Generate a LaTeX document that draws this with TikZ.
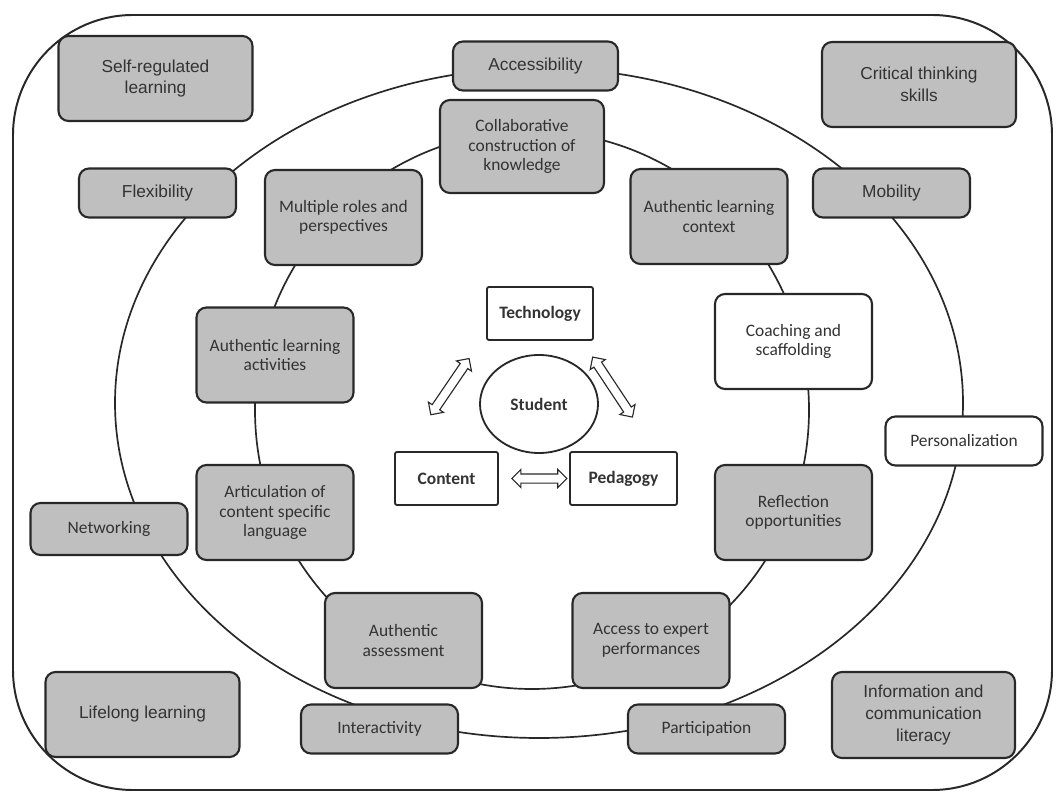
\documentclass[tikz,border=0pt]{standalone}
\usepackage{fontspec}
\setmainfont{Carlito}
\newfontfamily\arialfont{Liberation Sans}
\usetikzlibrary{shapes.geometric,shapes.arrows}
\newlength\px
\setlength\px{0.025cm}
\definecolor{boxgray}{RGB}{191,191,191}
\definecolor{inkgray}{RGB}{40,40,40}
\tikzset{
  gbox/.style={draw=inkgray, fill=boxgray, line width=1.5pt, rounded corners=10\px,
    align=center, inner sep=0pt, text=black!80, font=\fontsize{12.4}{14}\selectfont},
  wbox/.style={gbox, fill=white},
  abox/.style={gbox, font=\arialfont\fontsize{12.3}{15.4}\selectfont},
  ringbox/.style={minimum width=157\px, minimum height=95\px},
  tagbox/.style={minimum width=157\px, minimum height=49\px},
  cornerbox/.style={minimum width=194\px, minimum height=85\px},
  corebox/.style={draw=inkgray, fill=white, line width=1.3pt, rounded corners=2\px,
    minimum width=105\px, minimum height=53\px, inner sep=0pt,
    text=black!80, font=\bfseries\fontsize{12.4}{14}\selectfont},
  ring/.style={draw=inkgray, line width=1.2pt},
  dblarr/.style={double arrow, draw=inkgray, fill=white, line width=0.8pt,
    inner sep=0pt, inner ysep=4\px, double arrow head extend=4.5\px, sloped}
}
\begin{document}
\begin{tikzpicture}[x=0.025cm, y=-0.025cm]
  \useasboundingbox (0,0) rectangle (1059,793);
  % frame and the two rings
  \draw[draw=inkgray, line width=1.4pt, rounded corners=120\px] (13,15) rectangle (1052,790);
  \draw[ring] (539,403) ellipse [x radius=424\px, y radius=335\px];
  \draw[ring] (532,410) ellipse [x radius=277\px, y radius=279\px];

  % CORNERS
  \node[abox, cornerbox] (selfreg) at (155.5,78.5) {Self-regulated\\learning};
  \node[abox, cornerbox] (critical) at (919,84.5) {Critical thinking\\skills};
  \node[abox, cornerbox] (lifelong) at (142.5,714.5) {Lifelong learning};
  \node[abox, cornerbox, minimum width=183\px, minimum height=86\px] (infolit) at (923.5,715)
    {Information and\\communication\\literacy};

  % OUTER RING
  \node[abox, tagbox, minimum width=165\px] (access) at (535.5,66) {Accessibility};
  \node[abox, tagbox] (flex) at (157.5,193) {Flexibility};
  \node[abox, tagbox] (mobility) at (891.5,193) {Mobility};
  \node[gbox, tagbox, minimum height=52\px] (network) at (109,529) {Networking};
  \node[wbox, tagbox] (personal) at (964,441) {Personalization};
  \node[gbox, tagbox] (interact) at (379.5,729) {Interactivity};
  \node[gbox, tagbox] (particip) at (706.5,729) {Participation};

  % INNER RING
  \node[gbox, ringbox, minimum width=164\px, minimum height=93\px] (collab) at (522,146.5)
    {Collaborative\\construction of\\knowledge};
  \node[gbox, ringbox] (multiple) at (343.5,217.5) {Multiple roles and\\perspectives};
  \node[gbox, ringbox] (context) at (709,216.5) {Authentic learning\\context};
  \node[wbox, ringbox] (coaching) at (793.5,341.5) {Coaching and\\scaffolding};
  \node[gbox, ringbox] (activity) at (275,355) {Authentic learning\\activities};
  \node[gbox, ringbox] (articul) at (275,512.5) {Articulation of\\content specific\\language};
  \node[gbox, ringbox] (reflect) at (793.5,512.5) {Reflection\\opportunities};
  \node[gbox, ringbox] (assess) at (403.5,640.5) {Authentic\\assessment};
  \node[gbox, ringbox] (expert) at (651,640.5) {Access to expert\\performances};

  % CORE
  \node[corebox, minimum width=106\px] (tech) at (540,313.5) {Technology};
  \node[corebox, minimum width=103\px] (content) at (446.5,478.5) {Content};
  \node[corebox, minimum width=107\px] (pedagogy) at (623.5,478.5) {Pedagogy};
  \node[draw=inkgray, line width=1.3pt, ellipse, minimum width=118\px, minimum height=98\px,
    inner sep=0pt, text=black!80, font=\bfseries\fontsize{12.4}{14}\selectfont] (student) at (539,404) {Student};

  \path ([xshift=12\px]content.north west) -- ([xshift=-5\px]tech.south west)
    node[dblarr, pos=0.585, minimum height=68\px] (arrct) {};
  \path ([xshift=42\px]tech.south) -- ([xshift=31.5\px]pedagogy.north)
    node[dblarr, pos=0.419, minimum height=72\px] (arrtp) {};
  \path (content.east) -- (pedagogy.west)
    node[dblarr, pos=0.576, minimum height=55\px] (arrcp) {};
\end{tikzpicture}
\end{document}
